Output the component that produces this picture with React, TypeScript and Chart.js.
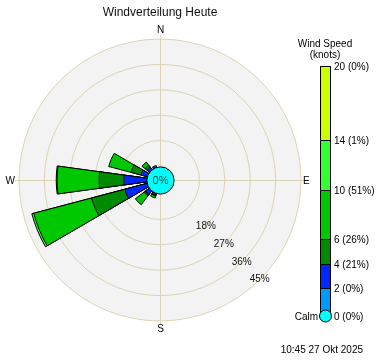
import React, { useEffect, useRef } from 'react';
import { Chart, registerables } from 'chart.js';

Chart.register(...registerables);

const FONT = '"Liberation Sans", Arial, sans-serif';
const TITLE = 'Windverteilung Heute';
const TIMESTAMP = '10:45 27 Okt 2025';
const LEGEND_TITLE = ['Wind Speed', '(knots)'];
const CALM_LABEL = 'Calm';

const DIRECTIONS = ['N', 'NNE', 'NE', 'ENE', 'E', 'ESE', 'SE', 'SSE', 'S', 'SSW', 'SW', 'WSW', 'W', 'WNW', 'NW', 'NNW'];
const COMPASS = ['N', 'E', 'S', 'W'];

// percent of observations per direction, per speed bin (knots)
const SPD_0_2 = [0, 0, 0, 0, 0, 0, 0, 0, 0, 0, 0, 0, 0, 0, 0, 0];
const SPD_2_4 = [0, 0, 0, 0, 0, 0, 0, 0, 0, 0.5, 1.5, 7.9, 7.8, 1.9, 0.8, 0.3];
const SPD_4_6 = [0, 0, 0, 0, 0, 0, 0, 0, 0, 0.3, 0.5, 12.2, 8.8, 3.7, 0.8, 0];
const SPD_6_10 = [0, 0, 0, 0, 0, 0, 0, 0, 0, 0.8, 4.0, 21.2, 14.9, 8.2, 1.4, 0];
const SPD_10_14 = [0, 0, 0, 0, 0, 0, 0, 0, 0, 0, 0, 0.7, 0.3, 0, 0, 0];
const SPD_14_20 = [0, 0, 0, 0, 0, 0, 0, 0, 0, 0, 0, 0, 0, 0, 0, 0];

const SPEED_EDGES = [0, 2, 4, 6, 10, 14, 20];
const EDGE_PERCENT = [0, 0, 21, 26, 51, 1, 0];
const CALM_PERCENT = 0;

const RING_TICKS = [0, 9, 18, 27, 36, 45];
const RING_LABELS = ['', '', '18%', '27%', '36%', '45%'];

const BIN_COLORS = ['#0099ff', '#0028ff', '#008a00', '#00c800', '#33ff33', '#ccff00'];
const GRID = '#dcd3b6';
const WEDGE = 15.5;
const GAP = 22.5 - WEDGE;

const BINS = [SPD_0_2, SPD_2_4, SPD_4_6, SPD_6_10, SPD_10_14, SPD_14_20];

export default function App() {
  const ref = useRef<HTMLCanvasElement>(null);

  useEffect(() => {
    const canvas = ref.current!;
    const labels = DIRECTIONS.flatMap((d) => [d, '']);
    const datasets = BINS.map((bin, k) => {
      const cum = DIRECTIONS.map((_, i) => BINS.slice(0, k + 1).reduce((a, b) => a + b[i], 0));
      const visible = (idx: number) => idx % 2 === 0 && bin[idx / 2] > 0;
      return {
        label: `${SPEED_EDGES[k]}-${SPEED_EDGES[k + 1]}`,
        data: cum.flatMap((v) => [v, 0]),
        backgroundColor: (c: any) => (visible(c.dataIndex) ? BIN_COLORS[k] : 'rgba(0,0,0,0)'),
        borderColor: '#000',
        borderWidth: (c: any) => (visible(c.dataIndex) ? 1 : 0),
        angle: (c: any) => (c.dataIndex % 2 === 0 ? WEDGE : GAP),
      };
    });

    const rosePlugin = {
      id: 'rose',
      beforeDraw(chart: any) {
        const s = chart.scales.r;
        const ctx = chart.ctx;
        ctx.save();
        ctx.fillStyle = '#f3f3f3';
        ctx.beginPath();
        ctx.arc(s.xCenter, s.yCenter, s.drawingArea, 0, Math.PI * 2);
        ctx.fill();
        ctx.restore();
      },
      beforeDatasetsDraw(chart: any) {
        const s = chart.scales.r;
        const ctx = chart.ctx;
        const R = s.drawingArea;
        const cx = s.xCenter;
        const cy = s.yCenter;
        ctx.save();
        ctx.strokeStyle = GRID;
        ctx.lineWidth = 1;
        ctx.beginPath();
        ctx.moveTo(cx + 0.5, cy - R - 4);
        ctx.lineTo(cx + 0.5, cy + R + 4);
        ctx.moveTo(cx - R - 4, cy + 0.5);
        ctx.lineTo(cx + R + 4, cy + 0.5);
        ctx.stroke();
        ctx.fillStyle = '#000';
        ctx.font = `10px ${FONT}`;
        ctx.textBaseline = 'middle';
        ctx.textAlign = 'center';
        ctx.fillText(COMPASS[0], cx + 0.5, cy - R - 9);
        ctx.fillText(COMPASS[2], cx + 0.5, cy + R + 8);
        ctx.textAlign = 'left';
        ctx.fillText(COMPASS[1], cx + R + 2, cy + 1);
        ctx.textAlign = 'right';
        ctx.fillText(COMPASS[3], cx - R - 4, cy + 1);
        ctx.restore();
      },
      afterDatasetsDraw(chart: any) {
        const s = chart.scales.r;
        const ctx = chart.ctx;
        const cx = s.xCenter;
        const cy = s.yCenter;
        ctx.save();
        // ring labels along SE diagonal
        ctx.fillStyle = '#111';
        ctx.font = `10px ${FONT}`;
        ctx.textAlign = 'center';
        ctx.textBaseline = 'middle';
        RING_TICKS.forEach((v, i) => {
          if (!RING_LABELS[i]) return;
          const r = s.getDistanceFromCenterForValue(v);
          ctx.fillText(RING_LABELS[i], cx + r * Math.SQRT1_2, cy + r * Math.SQRT1_2);
        });
        // calm circle
        const rc = s.getDistanceFromCenterForValue(0) - 0.5;
        ctx.beginPath();
        ctx.arc(cx + 0.5, cy + 0.5, rc, 0, Math.PI * 2);
        ctx.fillStyle = '#00ffff';
        ctx.fill();
        ctx.strokeStyle = '#000';
        ctx.lineWidth = 1;
        ctx.stroke();
        ctx.fillStyle = '#333';
        ctx.font = `11px ${FONT}`;
        ctx.fillText(`${CALM_PERCENT}%`, cx + 0.5, cy + 1);
        ctx.restore();
      },
      afterDraw(chart: any) {
        const ctx = chart.ctx;
        const BAR_X = 320;
        const BAR_W = 10;
        const BAR_BOTTOM = 313;
        const PX = 12.35;
        const yOf = (kn: number) => Math.round(BAR_BOTTOM - kn * PX);
        ctx.save();
        ctx.font = `10px ${FONT}`;
        ctx.fillStyle = '#000';
        ctx.textAlign = 'center';
        ctx.textBaseline = 'middle';
        ctx.fillText(LEGEND_TITLE[0], 325, 44);
        ctx.fillText(LEGEND_TITLE[1], 325, 55);
        ctx.strokeStyle = '#000';
        ctx.lineWidth = 1;
        for (let k = 0; k < BINS.length; k++) {
          const yTop = yOf(SPEED_EDGES[k + 1]);
          const yBot = yOf(SPEED_EDGES[k]);
          ctx.fillStyle = BIN_COLORS[k];
          ctx.fillRect(BAR_X, yTop, BAR_W, yBot - yTop);
          ctx.strokeRect(BAR_X + 0.5, yTop + 0.5, BAR_W, yBot - yTop);
        }
        // calm marker
        const calmY = 316;
        ctx.beginPath();
        ctx.arc(325.5, calmY, 6, 0, Math.PI * 2);
        ctx.fillStyle = '#00ffff';
        ctx.fill();
        ctx.stroke();
        ctx.fillStyle = '#000';
        ctx.textAlign = 'left';
        SPEED_EDGES.forEach((e, k) => {
          const y = k === 0 ? calmY + 1 : yOf(e) + 1;
          ctx.fillText(`${e} (${EDGE_PERCENT[k]}%)`, 334, y);
        });
        ctx.textAlign = 'right';
        ctx.fillText(CALM_LABEL, 318, calmY + 1);
        ctx.fillText(TIMESTAMP, 363, 350);
        ctx.restore();
      },
    };

    const chart = new Chart(canvas, {
      type: 'polarArea',
      data: { labels, datasets } as any,
      options: {
        responsive: false,
        animation: false,
        layout: { padding: { left: 19, right: 81, top: 0, bottom: 40 } },
        plugins: {
          legend: { display: false },
          tooltip: { enabled: false },
          title: {
            display: true,
            text: TITLE,
            color: '#111',
            font: { size: 12, weight: 'normal', family: FONT },
            padding: { top: 5, bottom: 19.6 },
          },
        },
        scales: {
          r: {
            min: -5,
            max: 45,
            startAngle: -WEDGE / 2,
            ticks: { display: false },
            grid: { color: GRID, lineWidth: 1, circular: true },
            angleLines: { display: false },
            pointLabels: { display: false },
            afterBuildTicks: (s: any) => {
              s.ticks = RING_TICKS.map((v) => ({ value: v }));
            },
          },
        },
      } as any,
      plugins: [rosePlugin],
    });
    return () => chart.destroy();
  }, []);

  return (
    <div style={{ position: 'fixed', left: 0, top: 0, width: 382, height: 361, background: '#fff' }}>
      <canvas ref={ref} width={382} height={361} style={{ display: 'block' }} />
    </div>
  );
}
